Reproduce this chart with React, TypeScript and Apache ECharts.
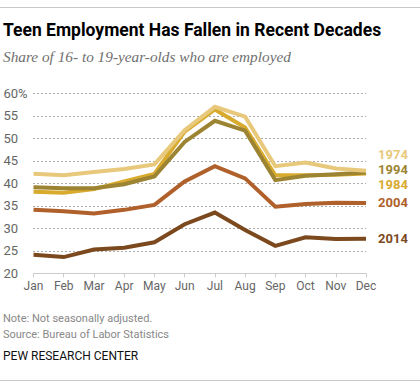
import React, { useEffect, useRef } from "react";
import * as echarts from "echarts";

const months = ["Jan", "Feb", "Mar", "Apr", "May", "Jun", "Jul", "Aug", "Sep", "Oct", "Nov", "Dec"];
const yTicks = [20, 25, 30, 35, 40, 45, 50, 55, 60];

const s1974 = [42.1, 41.8, 42.5, 43.2, 44.2, 51.8, 57.0, 54.8, 43.8, 44.6, 43.3, 42.8];
const s1994 = [39.1, 38.9, 38.9, 39.8, 41.5, 49.2, 53.9, 51.7, 40.7, 41.7, 42.0, 42.4];
const s1984 = [38.1, 37.9, 38.7, 40.4, 42.1, 51.5, 56.4, 52.4, 41.8, 41.8, 41.9, 42.2];
const s2004 = [34.1, 33.8, 33.3, 34.1, 35.2, 40.4, 43.8, 41.1, 34.8, 35.4, 35.7, 35.6];
const s2014 = [24.1, 23.6, 25.3, 25.7, 26.9, 30.9, 33.5, 29.6, 26.1, 28.0, 27.6, 27.7];

const seriesNames = ["1974", "1994", "1984", "2004", "2014"];
const seriesData = [s1974, s1994, s1984, s2004, s2014];
const seriesColors = ["#e8c97c", "#9c8433", "#d8aa2e", "#b0602a", "#7c491e"];
const labelOffsets = [[4, -16], [4, -3], [4, 11], [4, -1], [4, 0]];

export default function App() {
  const ref = useRef<HTMLDivElement>(null);
  useEffect(() => {
    if (!ref.current) return;
    const chart = echarts.init(ref.current, null, { renderer: "svg" });
    const sans = "Roboto, 'Liberation Sans', sans-serif";
    chart.setOption({
      animation: false,
      grid: { left: 33.5, right: 54, top: 93.3, bottom: 111.7, containLabel: false },
      xAxis: {
        type: "category",
        data: months,
        boundaryGap: false,
        axisLine: { lineStyle: { color: "#cccccc", width: 1 } },
        axisTick: { show: true, length: 4, lineStyle: { color: "#cccccc" } },
        axisLabel: { color: "#666666", fontSize: 12, fontFamily: sans, margin: 7 },
        splitLine: { show: false },
      },
      yAxis: {
        type: "value",
        min: yTicks[0],
        max: yTicks[yTicks.length - 1],
        interval: 5,
        axisLine: { show: false },
        axisTick: { show: false },
        axisLabel: {
          color: "#666666",
          fontSize: 13,
          fontFamily: sans,
          align: "left",
          margin: 30,
          formatter: (v: number) => (v === 60 ? "60%" : String(v)),
        },
        splitLine: { show: true, lineStyle: { color: "#555555", type: [1, 3], width: 1 } },
      },
      series: seriesNames.map((name, i) => ({
        name,
        type: "line",
        data: seriesData[i],
        symbol: "none",
        z: 10 - i,
        lineStyle: { color: seriesColors[i], width: 4, cap: "butt", join: "miter" },
        endLabel: {
          show: true,
          formatter: name,
          color: seriesColors[i],
          fontWeight: "bold",
          fontSize: 13,
          fontFamily: sans,
          offset: labelOffsets[i],
        },
      })),
      graphic: [
        { type: "line", shape: { x1: 0, y1: 7.5, x2: 420, y2: 7.5 }, style: { stroke: "#c8c8c8", lineWidth: 1 } },
        {
          type: "text",
          left: 3,
          top: 21,
          style: { text: "Teen Employment Has Fallen in Recent Decades", fill: "#000", font: `bold 17.5px ${sans}` },
        },
        {
          type: "text",
          left: 3,
          top: 49,
          style: {
            text: "Share of 16- to 19-year-olds who are employed",
            fill: "#6f6f6f",
            font: "italic 15.3px 'Liberation Serif', 'DejaVu Serif', serif",
          },
        },
        {
          type: "text",
          left: 3,
          top: 313,
          style: { text: "Note: Not seasonally adjusted.", fill: "#888888", font: `11px ${sans}` },
        },
        {
          type: "text",
          left: 3,
          top: 329,
          style: { text: "Source: Bureau of Labor Statistics", fill: "#888888", font: `11px ${sans}` },
        },
        {
          type: "text",
          left: 3,
          top: 350,
          style: { text: "PEW RESEARCH CENTER", fill: "#111111", font: `12px ${sans}` },
        },
        { type: "line", shape: { x1: 0, y1: 380.5, x2: 420, y2: 380.5 }, style: { stroke: "#c8c8c8", lineWidth: 1 } },
      ],
    });
    return () => chart.dispose();
  }, []);
  return (
    <div
      ref={ref}
      style={{ position: "fixed", left: 0, top: 0, width: 420, height: 385, background: "#fff" }}
    />
  );
}
